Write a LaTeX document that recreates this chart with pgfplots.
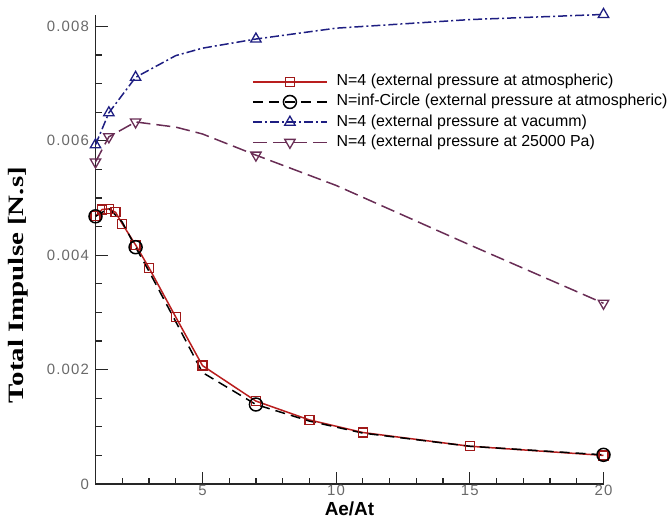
\documentclass[border=0pt]{standalone}
\usepackage{fontspec}
\setmainfont{Liberation Sans}
\newfontfamily\timesfont{Liberation Serif}
\usepackage{pgfplots}
\pgfplotsset{compat=1.18}
\definecolor{redline}{RGB}{185,30,30}
\definecolor{redmark}{RGB}{160,25,25}
\definecolor{navyline}{RGB}{30,30,130}
\definecolor{plumline}{RGB}{105,45,85}
\definecolor{tickgray}{RGB}{105,105,105}
\begin{document}
\begin{tikzpicture}
\path[use as bounding box] (-95.5bp,-34bp) rectangle (571.5bp,484bp);
\begin{axis}[
  at={(0bp,0bp)}, anchor=south west,
  scale only axis, width=508bp, height=469bp,
  xmin=1, xmax=20, ymin=0, ymax=0.0082,
  clip=false,
  axis x line*=bottom, axis y line*=left,
  axis line style={-, line width=1.6bp, black!85},
  xtick={5,10,15,20},
  minor xtick={2,3,4,6,7,8,9,11,12,13,14,16,17,18,19},
  ytick={0,0.002,0.004,0.006,0.008},
  minor ytick={0.0005,0.001,0.0015,0.0025,0.003,0.0035,0.0045,0.005,0.0055,0.0065,0.007,0.0075},
  tick align=inside,
  major tick length=12bp, minor tick length=6bp,
  every tick/.style={line width=1.2bp, black!85},
  scaled y ticks=false,
  /pgf/number format/assume math mode=true,
  yticklabel style={/pgf/number format/fixed, /pgf/number format/precision=3, xshift=-3bp},
  xticklabel style={yshift=2bp},
  ticklabel style={font=\fontsize{15}{15}\selectfont\addfontfeature{LetterSpace=8}, text=tickgray},
  xlabel={Ae/At}, ylabel={\scalebox{1.32}[1]{Total Impulse [N.s]}},
  every axis x label/.style={at={(axis description cs:0.5,-0.053)}, anchor=center, font=\bfseries\fontsize{19}{19}\selectfont},
  every axis y label/.style={at={(axis description cs:-0.1525,0.4243)}, anchor=center, rotate=90, font=\timesfont\bfseries\fontsize{22}{22}\selectfont},
  legend cell align=left,
  legend image code/.code={\draw[#1, mark indices={2}] plot coordinates {(0bp,0bp) (37bp,0bp) (74bp,0bp)};},
  legend style={draw=none, fill=none, at={(axis description cs:0.308,0.873)}, anchor=north west,
    font=\fontsize{16}{16}\selectfont, inner sep=0pt, row sep=6.2bp,
    nodes={inner sep=0pt, text height=11bp, text depth=3bp},
    /tikz/every odd column/.append style={column sep=9bp}},
]
\addplot[redline, line width=1.5bp, mark=square, mark size=4.5bp, mark options={solid, draw=redmark, fill=none, line width=1.3bp}]
 coordinates {(1,0.00468)(1.25,0.00480)(1.5,0.00481)(1.75,0.00475)(2,0.00455)(2.5,0.00418)(3,0.00378)(4,0.00292)(5,0.00207)(7,0.00145)(9,0.00112)(11,0.00090)(15,0.00066)(20,0.00050)};
\addlegendentry{N=4 (external pressure at atmospheric)}
\addplot[black, line width=1.5bp, dash pattern=on 10bp off 6bp, mark=o, mark size=6.5bp, mark indices={1,4,8,12}, mark options={solid, fill=none, line width=1.5bp}]
 coordinates {(1,0.00468)(1.5,0.00482)(2,0.00458)(2.5,0.00414)(3,0.00372)(4,0.00284)(5,0.00195)(7,0.00139)(9,0.00110)(11,0.00089)(15,0.00066)(20,0.00051)};
\addlegendentry{N=inf-Circle (external pressure at atmospheric)}
\addplot[navyline, line width=1.5bp, dash pattern=on 9bp off 3bp on 2bp off 3bp, mark=triangle, mark size=6bp, mark indices={1,2,3,6,9}, mark options={solid, fill=none, line width=1.3bp}]
 coordinates {(1,0.00593)(1.5,0.00649)(2.5,0.00711)(4,0.00749)(5,0.00762)(7,0.00778)(10,0.00797)(15,0.00812)(20,0.00821)};
\addlegendentry{N=4 (external pressure at vacumm)}
\addplot[plumline, line width=1.5bp, dash pattern=on 14bp off 6bp, mark=triangle, mark size=6bp, mark indices={1,2,3,6,9}, mark options={solid, fill=none, rotate=180, line width=1.3bp}]
 coordinates {(1,0.00563)(1.5,0.00607)(2.5,0.00633)(4,0.00624)(5,0.00612)(7,0.00575)(10,0.00522)(15,0.00418)(20,0.00316)};
\addlegendentry{N=4 (external pressure at 25000 Pa)}
\end{axis}
\end{tikzpicture}
\end{document}
